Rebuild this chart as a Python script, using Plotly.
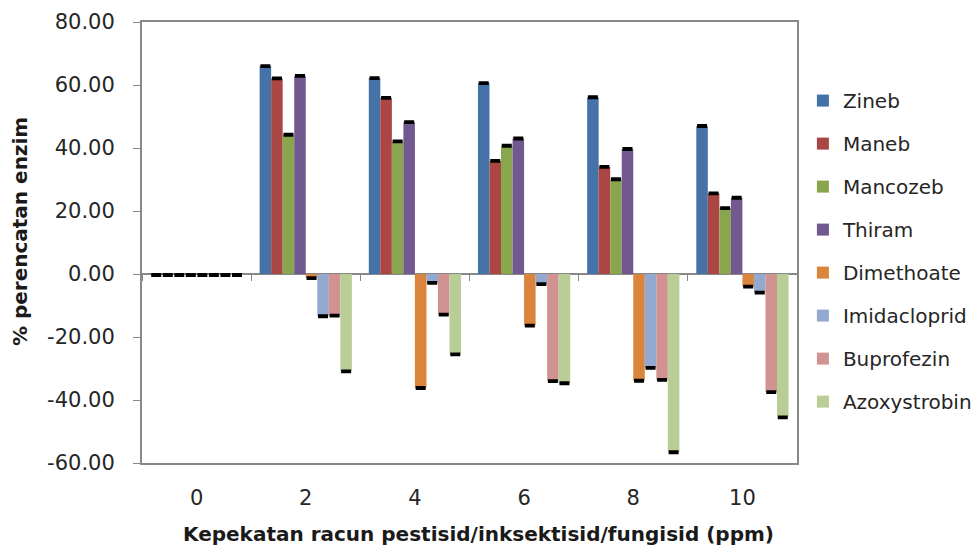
import plotly.graph_objects as go

categories = ["0", "2", "4", "6", "8", "10"]

zineb = [-0.3, 66.0, 62.2, 60.6, 56.1, 47.0]
maneb = [-0.3, 62.1, 55.9, 35.9, 34.0, 25.6]
mancozeb = [-0.3, 44.2, 42.1, 40.7, 30.1, 20.9]
thiram = [-0.3, 62.9, 48.2, 43.0, 39.7, 24.2]
dimethoate = [-0.3, -1.3, -36.2, -16.4, -33.9, -4.0]
imidacloprid = [-0.3, -13.4, -2.8, -3.2, -29.8, -5.9]
buprofezin = [-0.3, -13.2, -12.9, -34.0, -33.6, -37.5]
azoxystrobin = [-0.3, -30.9, -25.5, -34.7, -56.6, -45.5]

series_names = ["Zineb", "Maneb", "Mancozeb", "Thiram", "Dimethoate",
                "Imidacloprid", "Buprofezin", "Azoxystrobin"]
series_values = [zineb, maneb, mancozeb, thiram, dimethoate,
                 imidacloprid, buprofezin, azoxystrobin]
colors = ["#4572A7", "#AA4643", "#89A54E", "#71588F", "#DB843D",
          "#93A9CF", "#D19392", "#B9CD96"]

y_tickvals = [-60, -40, -20, 0, 20, 40, 60, 80]
y_ticktext = ["-60.00", "-40.00", "-20.00", "0.00", "20.00", "40.00", "60.00", "80.00"]

FONT = "DejaVu Sans"
GRAY = "#888888"
TXT = "#262626"

fig = go.Figure()
for name, vals, col in zip(series_names, series_values, colors):
    fig.add_trace(go.Bar(
        x=categories, y=vals, name=name, legendgroup=name,
        marker=dict(color=col, line=dict(width=0)),
        error_y=dict(type="constant", value=0.3, color="black",
                     thickness=2, width=5),
    ))

# invisible trace to carry the category axis drawn at the zero line
fig.add_trace(go.Scatter(x=categories, y=[None] * len(categories),
                         xaxis="x2", yaxis="y", showlegend=False,
                         hoverinfo="skip", mode="lines"))

fig.update_layout(
    width=980, height=546,
    margin=dict(l=134, r=191, t=14, b=91, autoexpand=False),
    paper_bgcolor="white", plot_bgcolor="white",
    barmode="group", bargap=0.155, bargroupgap=0,
    font=dict(family=FONT, size=21, color=TXT),
    showlegend=True,
    legend=dict(x=1.009, xanchor="left", y=0.866, yanchor="top",
                font=dict(family=FONT, size=20, color=TXT),
                tracegroupgap=14, itemwidth=30,
                bgcolor="rgba(0,0,0,0)"),
    xaxis=dict(
        type="category", categoryorder="array", categoryarray=categories,
        range=[-0.5, 5.5], automargin=False,
        showline=True, linecolor=GRAY, linewidth=2, mirror=True,
        ticks="", showgrid=False, zeroline=False,
        tickfont=dict(family=FONT, size=21, color=TXT),
        ticklabelstandoff=15,
    ),
    xaxis2=dict(
        type="category", categoryorder="array", categoryarray=categories,
        range=[-0.5, 5.5], overlaying="x", anchor="free",
        position=60 / 140, automargin=False,
        showline=False, ticks="outside", tickson="boundaries",
        ticklen=6, tickcolor=GRAY, tickwidth=1,
        showticklabels=False, showgrid=False, zeroline=False,
    ),
    yaxis=dict(
        range=[-60, 80], tickvals=y_tickvals, ticktext=y_ticktext,
        automargin=False,
        showline=True, linecolor=GRAY, linewidth=2, mirror=True,
        ticks="outside", ticklen=7, tickcolor=GRAY, tickwidth=1,
        showgrid=False,
        zeroline=True, zerolinecolor=GRAY, zerolinewidth=2,
        tickfont=dict(family=FONT, size=21, color=TXT),
        ticklabelstandoff=14,
    ),
    annotations=[
        dict(text="<b>% perencatan enzim</b>", textangle=-90,
             xref="paper", yref="paper", x=-0.186, y=0.524,
             xanchor="center", yanchor="middle", showarrow=False,
             font=dict(family=FONT, size=20, color="#1a1a1a")),
        dict(text="<b>Kepekatan racun pestisid/inksektisid/fungisid (ppm)</b>",
             xref="paper", yref="paper", x=0.5145, y=-0.161,
             xanchor="center", yanchor="middle", showarrow=False,
             font=dict(family=FONT, size=20, color="#1a1a1a")),
    ],
)

fig.write_html("out.html")
